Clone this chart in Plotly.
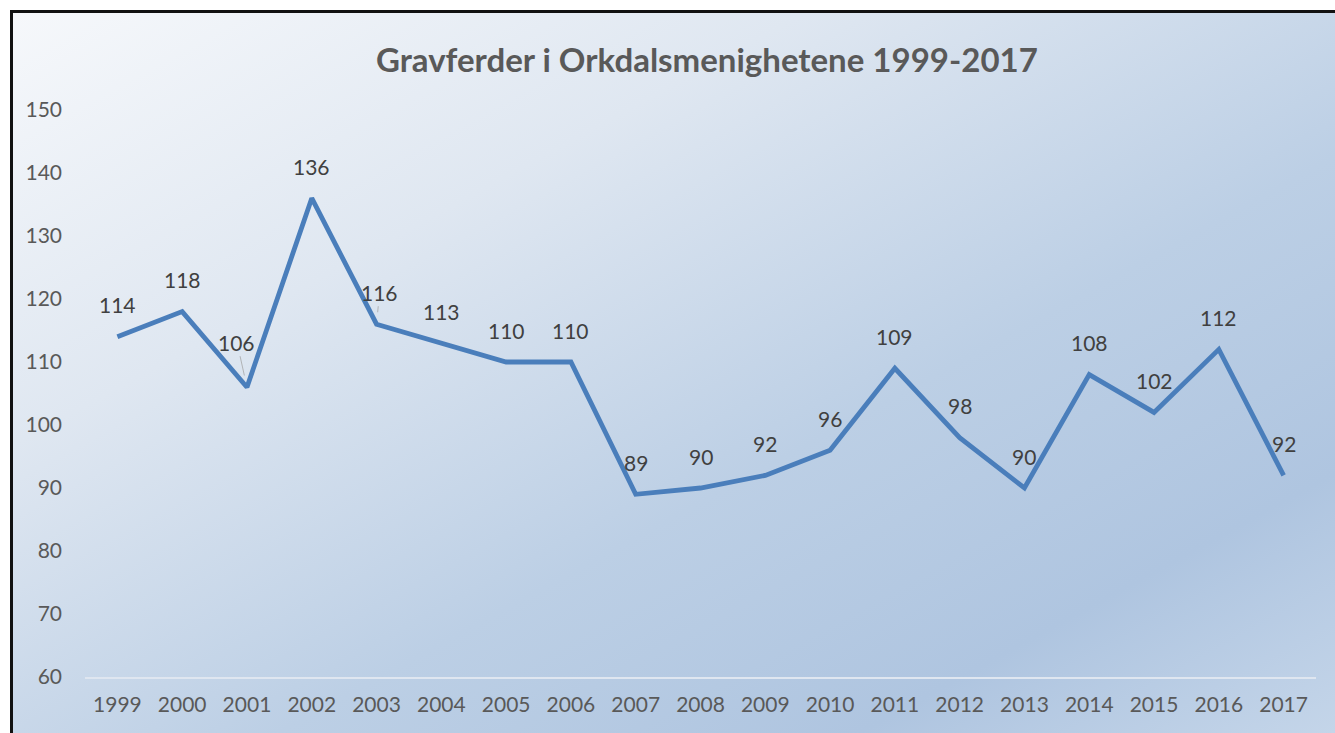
import plotly.graph_objects as go
import urllib.parse

# ---- data ----
years = ["1999", "2000", "2001", "2002", "2003", "2004", "2005", "2006", "2007", "2008",
         "2009", "2010", "2011", "2012", "2013", "2014", "2015", "2016", "2017"]
burials = [114, 118, 106, 136, 116, 113, 110, 110, 89, 90, 92, 96, 109, 98, 90, 108, 102, 112, 92]
y_ticks = [60, 70, 80, 90, 100, 110, 120, 130, 140, 150]
title_text = "Gravferder i Orkdalsmenighetene 1999-2017"

# ---- label offsets (px, style only) ----
label_dx = [0] * len(years)
label_dy = [-32] * len(years)
label_dx[2], label_dy[2] = -10, -45   # 2001 label moved left/up
label_dx[4], label_dy[4] = 3, -32     # 2003 label slightly right
leader = [False] * len(years)
leader[2] = True
leader[4] = True

W, H = 1335, 733
ML, MR, MT, MB = 85, 19, 110, 56
PW, PH = W - ML - MR, H - MT - MB

def px_to_paper_x(px):
    return (px - ML) / PW

def px_to_paper_y(py):
    return (H - MB - py) / PH

fig = go.Figure()
fig.add_trace(go.Scatter(
    x=years, y=burials, mode="lines",
    line=dict(color="#4a7ebb", width=4.8),
    hoverinfo="skip", showlegend=False,
))

label_font = dict(family="Lato", size=21, color="#404040")
annotations = []
for i, v in enumerate(burials):
    if leader[i]:
        annotations.append(dict(
            x=i, y=v, xref="x", yref="y", text=str(v),
            showarrow=True, arrowhead=0, arrowwidth=0.8, arrowcolor="#a6a6a6",
            ax=label_dx[i], ay=label_dy[i], standoff=12, font=label_font,
        ))
    else:
        annotations.append(dict(
            x=i, y=v, xref="x", yref="y", text=str(v), showarrow=False,
            xshift=label_dx[i], yshift=-label_dy[i], yanchor="middle", font=label_font,
        ))

annotations.append(dict(
    text="<b>" + title_text + "</b>", xref="paper", yref="paper",
    x=px_to_paper_x(707), y=px_to_paper_y(59), xanchor="center", yanchor="middle",
    showarrow=False, font=dict(family="Lato", size=33, color="#595959"),
))

svg = (
    "<svg xmlns='http://www.w3.org/2000/svg' width='100' height='100' preserveAspectRatio='none'>"
    "<defs><linearGradient id='g' x1='0' y1='0' x2='1' y2='1'>"
    "<stop offset='0' stop-color='#f6f8fb'/>"
    "<stop offset='0.3' stop-color='#dfe7f1'/>"
    "<stop offset='0.6' stop-color='#bccfe5'/>"
    "<stop offset='0.82' stop-color='#afc5e0'/>"
    "<stop offset='1' stop-color='#c4d5e9'/>"
    "</linearGradient></defs>"
    "<rect width='100' height='100' fill='url(#g)'/></svg>"
)
svg_uri = "data:image/svg+xml;charset=utf-8," + urllib.parse.quote(svg)

bx0, by0 = 13, 13
fig.add_layout_image(dict(
    source=svg_uri, xref="paper", yref="paper",
    x=px_to_paper_x(bx0), y=px_to_paper_y(by0),
    sizex=(W - bx0) / PW, sizey=(H - by0) / PH,
    xanchor="left", yanchor="top", sizing="stretch", layer="below",
))

shapes = [
    dict(type="line", xref="paper", yref="paper",
         x0=px_to_paper_x(10), x1=px_to_paper_x(W + 5),
         y0=px_to_paper_y(11.5), y1=px_to_paper_y(11.5),
         line=dict(color="#111111", width=3)),
    dict(type="line", xref="paper", yref="paper",
         x0=px_to_paper_x(11.5), x1=px_to_paper_x(11.5),
         y0=px_to_paper_y(10), y1=px_to_paper_y(H + 5),
         line=dict(color="#111111", width=3)),
]

fig.update_layout(
    width=W, height=H,
    margin=dict(l=ML, r=MR, t=MT, b=MB),
    paper_bgcolor="white", plot_bgcolor="rgba(0,0,0,0)",
    annotations=annotations, shapes=shapes,
    font=dict(family="Lato", color="#595959"),
    xaxis=dict(
        type="category", range=[-0.5, len(years) - 0.5],
        showgrid=False, zeroline=False,
        showline=True, linecolor="#dfe6f0", linewidth=1.5,
        ticks="", tickfont=dict(family="Lato", size=21, color="#595959"),
        ticklabelstandoff=8, fixedrange=True,
    ),
    yaxis=dict(
        range=[60, 150], tickvals=y_ticks, ticktext=[str(t) for t in y_ticks],
        showgrid=False, zeroline=False, showline=False, ticks="",
        tickfont=dict(family="Lato", size=21, color="#595959"),
        ticklabelstandoff=22, fixedrange=True,
    ),
)

fig.write_html(
    "out.html",
    config={"displayModeBar": False},
    post_script="document.body.style.margin='0';document.body.style.overflow='hidden';",
)
